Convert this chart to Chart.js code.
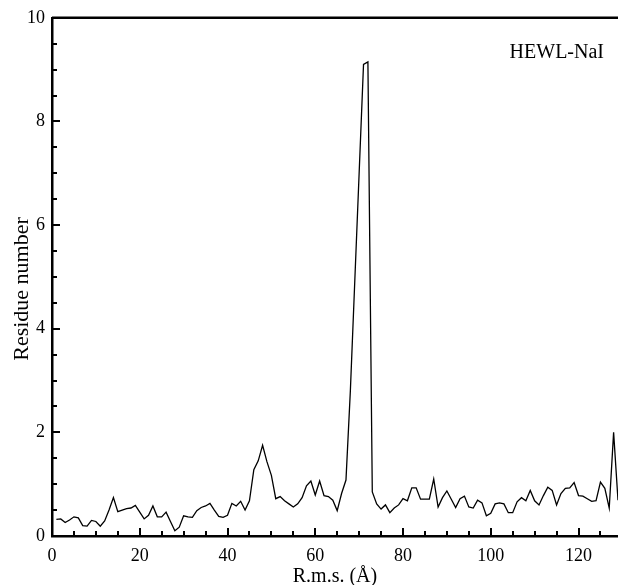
<!DOCTYPE html>
<html>
<head>
<meta charset="utf-8">
<script src="https://cdn.jsdelivr.net/npm/chart.js@4/dist/chart.umd.min.js"></script>
<style>
  html, body { margin: 0; padding: 0; background: #fff; }
  #wrap { position: relative; width: 618px; height: 585px; }
</style>
</head>
<body>
<div id="wrap"><canvas id="rmsChart"></canvas></div>
<script>
// --- data ---
const label = 'HEWL-NaI';
const xTitle = 'R.m.s. (Å)';
const yTitle = 'Residue number';
const xTicks = [0, 20, 40, 60, 80, 100, 120];
const yTicks = [0, 2, 4, 6, 8, 10];

// one value per residue, 1..129
const rms = [
  0.32, 0.33, 0.26, 0.31, 0.37, 0.35, 0.20, 0.19, 0.30, 0.28,
  0.19, 0.29, 0.50, 0.74, 0.47, 0.50, 0.53, 0.54, 0.59, 0.46,
  0.33, 0.40, 0.58, 0.37, 0.37, 0.46, 0.28, 0.10, 0.17, 0.39,
  0.37, 0.36, 0.49, 0.55, 0.58, 0.63, 0.50, 0.38, 0.36, 0.40,
  0.63, 0.58, 0.67, 0.50, 0.68, 1.28, 1.45, 1.75, 1.43, 1.17,
  0.72, 0.76, 0.68, 0.62, 0.56, 0.62, 0.74, 0.97, 1.06, 0.79,
  1.06, 0.78, 0.76, 0.69, 0.49, 0.82, 1.08, 2.80, 4.90, 7.00,
  9.10, 9.15, 0.85, 0.62, 0.52, 0.60, 0.45, 0.54, 0.60, 0.72,
  0.68, 0.93, 0.93, 0.71, 0.71, 0.71, 1.10, 0.56, 0.74, 0.87,
  0.71, 0.55, 0.72, 0.77, 0.56, 0.54, 0.69, 0.64, 0.39, 0.44,
  0.62, 0.64, 0.62, 0.45, 0.45, 0.66, 0.74, 0.68, 0.88, 0.68,
  0.60, 0.78, 0.94, 0.88, 0.60, 0.82, 0.92, 0.93, 1.03, 0.78,
  0.77, 0.72, 0.67, 0.68, 1.04, 0.92, 0.54, 2.00, 0.69
];

const SERIF = '"Liberation Serif", "DejaVu Serif", serif';

// inward tick marks, top frame line, y title and the in-plot label
const framePlugin = {
  id: 'frame',
  afterDraw(chart) {
    const { ctx, chartArea: a, scales: { x, y } } = chart;
    ctx.save();
    ctx.strokeStyle = '#000';
    ctx.lineCap = 'butt';

    // top border
    ctx.lineWidth = 2.5;
    ctx.beginPath();
    ctx.moveTo(a.left, a.top);
    ctx.lineTo(a.right, a.top);
    ctx.stroke();

    ctx.lineWidth = 2;
    // y ticks every 0.5, longer on labelled ones
    for (let v = 0.5; v < 10; v += 0.5) {
      const py = Math.round(y.getPixelForValue(v));
      const len = yTicks.includes(v) ? 8 : 5;
      ctx.beginPath();
      ctx.moveTo(a.left, py);
      ctx.lineTo(a.left + len, py);
      ctx.stroke();
    }
    // x ticks every 5
    for (let v = 5; v <= 125; v += 5) {
      const px = Math.round(x.getPixelForValue(v));
      const len = xTicks.includes(v) ? 8 : 5;
      ctx.beginPath();
      ctx.moveTo(px, a.bottom);
      ctx.lineTo(px, a.bottom - len);
      ctx.stroke();
    }

    ctx.fillStyle = '#000';
    ctx.font = '20px ' + SERIF;
    ctx.textAlign = 'right';
    ctx.textBaseline = 'alphabetic';
    ctx.fillText(label, 604, 58);

    // y axis title, sits a bit below the plot centre in the original
    ctx.translate(22, 289);
    ctx.rotate(-Math.PI / 2);
    ctx.font = '22px ' + SERIF;
    ctx.textAlign = 'center';
    ctx.textBaseline = 'middle';
    ctx.fillText(yTitle, 0, 0);
    ctx.restore();
  }
};

new Chart(document.getElementById('rmsChart'), {
  type: 'line',
  data: {
    datasets: [{
      data: rms.map((v, i) => ({ x: i + 1, y: v })),
      borderColor: '#000',
      borderWidth: 1.3,
      pointRadius: 0,
      tension: 0,
      fill: false
    }]
  },
  options: {
    responsive: true,
    maintainAspectRatio: false,
    animation: false,
    layout: { padding: { top: 16, right: 0, left: 0, bottom: 0 } },
    plugins: { legend: { display: false }, tooltip: { enabled: false } },
    scales: {
      x: {
        type: 'linear',
        min: 0,
        max: 129,
        afterBuildTicks: s => { s.ticks = xTicks.map(v => ({ value: v })); },
        afterFit: s => { s.height = 49; },
        grid: { display: false, drawTicks: false },
        border: { display: true, color: '#000', width: 2.5 },
        ticks: { color: '#000', padding: 9, maxRotation: 0, font: { family: SERIF, size: 18 } },
        title: {
          display: true, text: xTitle, color: '#000',
          padding: { top: 0, bottom: -2 },
          font: { family: SERIF, size: 20, lineHeight: 1 }
        }
      },
      y: {
        min: 0,
        max: 10,
        afterBuildTicks: s => { s.ticks = yTicks.map(v => ({ value: v })); },
        afterFit: s => { s.width = 52; },
        grid: { display: false, drawTicks: false },
        border: { display: true, color: '#000', width: 2.5 },
        ticks: { color: '#000', padding: 7, font: { family: SERIF, size: 18 } },
        title: { display: false }
      }
    }
  },
  plugins: [framePlugin]
});
</script>
</body>
</html>
